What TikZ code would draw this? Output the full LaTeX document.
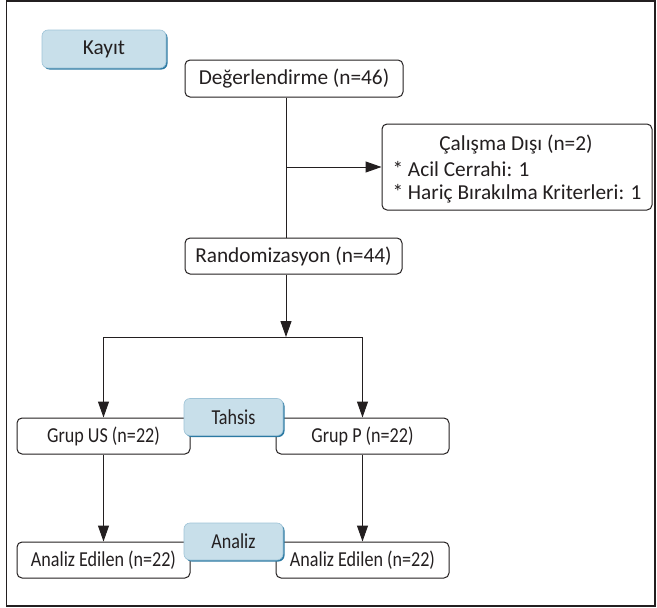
\documentclass[tikz,border=0pt]{standalone}
\usepackage{fontspec}
\usepackage{graphicx}
\setmainfont{Carlito}
\usetikzlibrary{arrows.meta}
\definecolor{ink}{HTML}{231F20}
\definecolor{tagfill}{HTML}{C8DFEA}
\definecolor{tagshade}{HTML}{2C7AA3}
\definecolor{tagline}{HTML}{9EC3D7}
\newcommand{\cond}[1]{\scalebox{0.85}[1]{#1}}
\tikzset{
  txt/.style={font=\fontsize{21.3}{25}\selectfont, text=ink},
  box/.style={txt, draw=ink, line width=1pt, rounded corners=5pt, fill=white, inner sep=0pt},
  tag/.style={txt, fill=tagfill, draw=tagline, line width=0.6pt, rounded corners=6pt, inner sep=0pt, minimum width=99pt, minimum height=37pt},
  shade/.style={fill=tagshade, rounded corners=6pt, inner sep=0pt, minimum width=99pt, minimum height=37pt},
  conn/.style={draw=ink, line width=1pt},
  arr/.style={conn, -{Triangle[length=16pt,width=11pt]}}
}
\begin{document}
\begin{tikzpicture}[x=1pt,y=-1pt]
\useasboundingbox (0,0) rectangle (657,608);
\draw[ink, line width=1.2pt] (6.5,1) rectangle (655,606);

% Kayit tag
\node[shade, minimum width=124pt, minimum height=38pt] (kayitsh) at (105.5,50.5) {};
\node[tag, minimum width=124pt, minimum height=38pt] (kayit) at (104,49) {Kayıt};

% main boxes
\node[box, minimum width=218pt, minimum height=37pt] (deg) at (294,78.5) {Değerlendirme (n=46)};
\node[box, minimum width=270pt, minimum height=86pt] (cal) at (517,167) {};
\node[txt] (cal1) at (516,144) {Çalışma Dışı (n=2)};
\node[txt, anchor=west] (cal2) at (389,169) {* Acil Cerrahi: 1};
\node[txt, anchor=west] (cal3) at (389,194) {* Hariç Bırakılma Kriterleri: 1};
\node[box, minimum width=217pt, minimum height=36pt] (rand) at (293.5,256) {Randomizasyon (n=44)};

\node[box, minimum width=173pt, minimum height=36pt] (gus) at (103.5,436) {\cond{Grup US (n=22)}};
\node[box, minimum width=173pt, minimum height=36pt] (gp) at (362.5,436) {\cond{Grup P (n=22)}};
\node[box, minimum width=173pt, minimum height=36pt] (aus) at (103.5,560) {\cond{Analiz Edilen (n=22)}};
\node[box, minimum width=173pt, minimum height=36pt] (ap) at (362.5,560) {\cond{Analiz Edilen (n=22)}};

% Tahsis / Analiz tags
\node[shade] (tahsissh) at (235,418.5) {};
\node[tag] (tahsis) at (233.5,417) {\cond{Tahsis}};
\node[shade] (analizsh) at (235,543) {};
\node[tag] (analiz) at (233.5,541.5) {\cond{Analiz}};

% connectors
\coordinate (mx) at (286,0);
\coordinate (split) at (286,337);
\draw[conn] (deg.south -| mx) -- (rand.north -| mx);
\draw[arr] (mx |- cal.west) -- (cal.west);
\draw[arr] (rand.south -| mx) -- (split);
\draw[conn] (split -| gus.north) -- (split -| gp.north);
\draw[arr] (split -| gus.north) -- (gus.north);
\draw[arr] (split -| gp.north) -- (gp.north);
\draw[arr] (gus.south) -- (aus.north);
\draw[arr] (gp.south) -- (ap.north);
\end{tikzpicture}
\end{document}
